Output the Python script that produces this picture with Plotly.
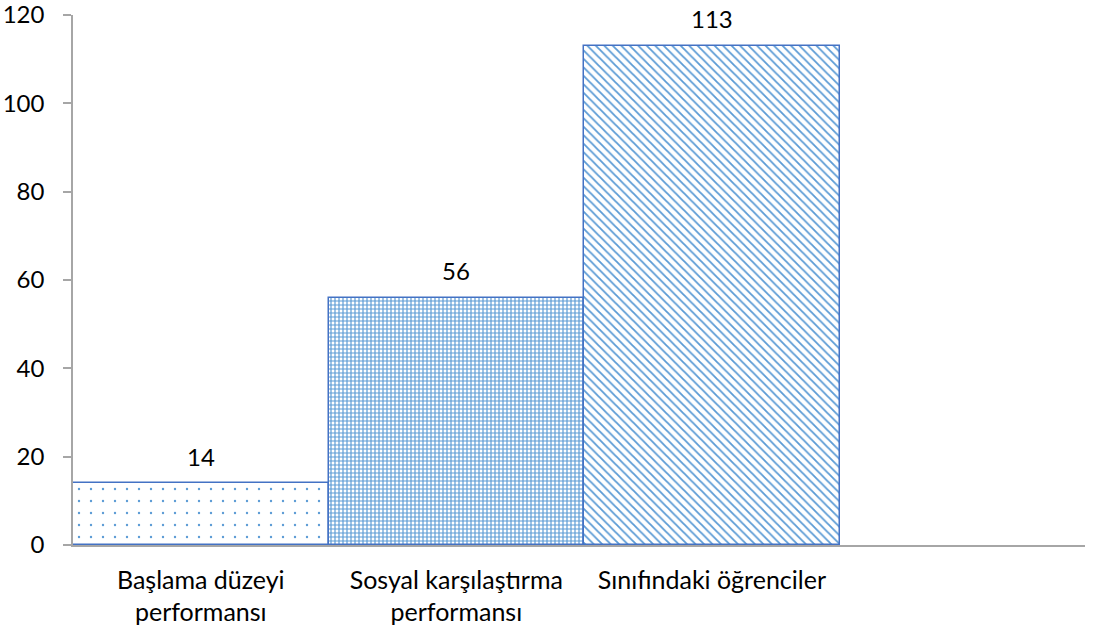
import plotly.graph_objects as go

categories = ["Başlama düzeyi<br>performansı", "Sosyal karşılaştırma<br>performansı", "Sınıfındaki öğrenciler"]
values = [14, 56, 113]
patterns = [".", "+", "\\"]
pattern_sizes = [12, 4, 6]
pattern_solidity = [0.03, 0.5, 0.3]
y_ticks = [0, 20, 40, 60, 80, 100, 120]

FONT = "Lato, 'Open Sans', sans-serif"
FS = 24
BORDER = "#4472C4"
FG = "#5B9BD5"

fig = go.Figure()
xs = list(range(len(categories)))
fig.add_trace(go.Bar(
    x=xs,
    y=values,
    width=1.0,
    cliponaxis=False,
    marker=dict(
        color="white",
        line=dict(color=BORDER, width=1.5),
        pattern=dict(
            shape=patterns,
            size=pattern_sizes,
            solidity=pattern_solidity,
            fgcolor=FG,
            fgopacity=1,
            bgcolor="white",
            fillmode="replace",
        ),
    ),
    showlegend=False,
    hoverinfo="skip",
))

for xv, v in zip(xs, values):
    fig.add_annotation(
        x=xv, y=v, text=str(v), showarrow=False,
        yanchor="middle", yshift=27,
        font=dict(family=FONT, size=FS, color="black"),
    )

fig.update_layout(
    width=1094,
    height=633,
    margin=dict(l=73, r=9, t=15, b=88),
    plot_bgcolor="white",
    paper_bgcolor="white",
    font=dict(family=FONT, size=FS, color="black"),
    bargap=0,
)
fig.update_xaxes(
    range=[-0.5, 3.46],
    tickmode="array",
    tickvals=xs,
    ticktext=categories,
    showline=True,
    linecolor="#A6A6A6",
    linewidth=1.5,
    ticks="",
    ticklabelstandoff=12,
    showgrid=False,
    zeroline=False,
    automargin=False,
    tickfont=dict(family=FONT, size=25, color="black"),
)
fig.update_yaxes(
    range=[0, 120],
    tickmode="array",
    tickvals=y_ticks,
    showline=True,
    linecolor="#A6A6A6",
    linewidth=1.5,
    ticks="outside",
    ticklen=8,
    tickcolor="#A6A6A6",
    tickwidth=1.5,
    ticklabelstandoff=14,
    ticklabeloverflow="allow",
    showgrid=False,
    zeroline=False,
    automargin=False,
    tickfont=dict(family=FONT, size=FS, color="black"),
)

fig.write_html("out.html", post_script="document.body.style.margin='0';",
               config={"displayModeBar": False})
